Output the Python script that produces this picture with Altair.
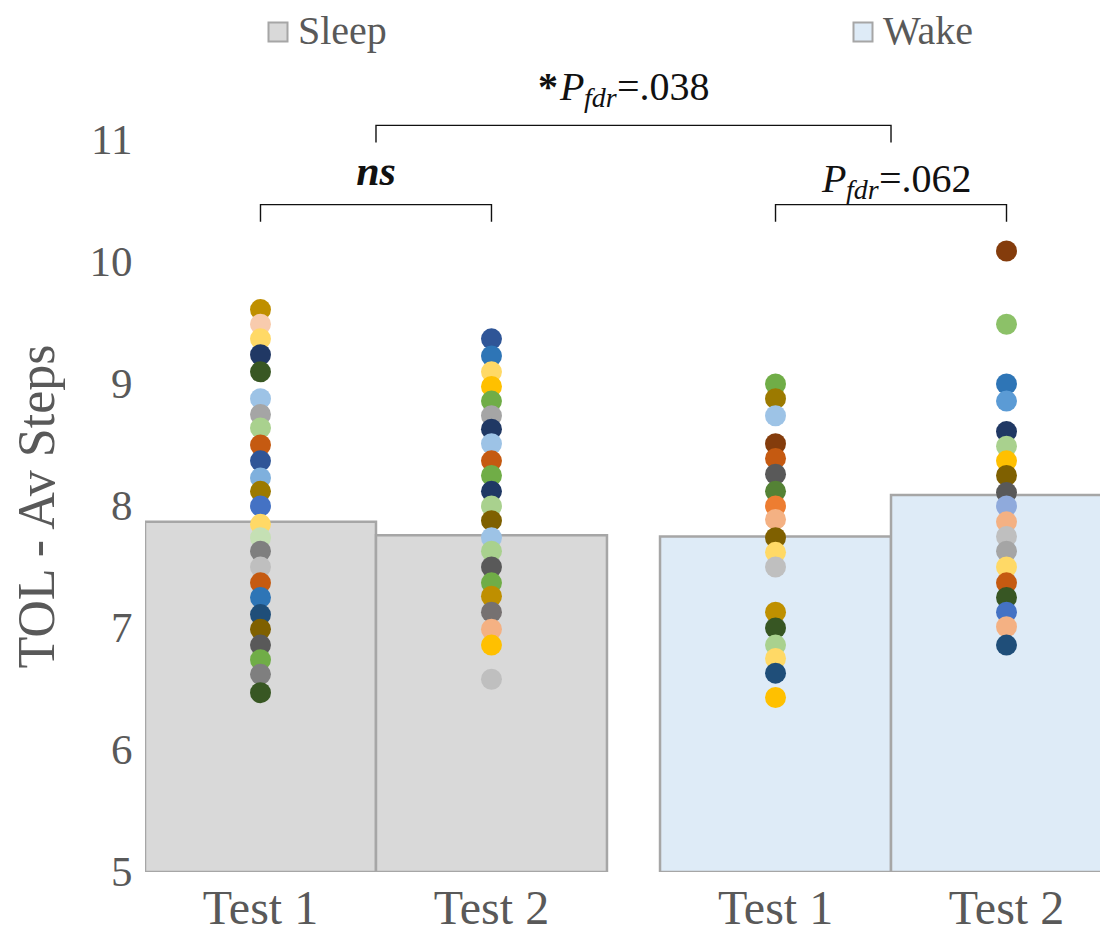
import altair as alt
import pandas as pd

# ---------------- data ----------------
groups = ["Sleep", "Sleep", "Wake", "Wake"]
tests = ["Test 1", "Test 2", "Test 1", "Test 2"]
means = [7.87, 7.76, 7.75, 8.09]

sleep_t1_vals = [9.61, 9.49, 9.37, 9.24, 9.10, 8.88, 8.75, 8.64, 8.50, 8.37, 8.23, 8.12, 8.00,
                 7.85, 7.74, 7.63, 7.50, 7.37, 7.25, 7.11, 6.99, 6.86, 6.74, 6.62, 6.47]
sleep_t1_cols = ["#BF8F00", "#F8CBAD", "#FFD966", "#203864", "#385723", "#9DC3E6", "#A5A5A5",
                 "#A9D18E", "#C55A11", "#2F5597", "#7FB0DD", "#9C7A00", "#4472C4", "#FFD966",
                 "#C5E0B4", "#7F7F7F", "#BFBFBF", "#C55A11", "#2E75B6", "#1F4E79", "#7F6000",
                 "#595959", "#70AD47", "#7F7F7F", "#385723"]

sleep_t2_vals = [9.37, 9.23, 9.10, 8.98, 8.86, 8.74, 8.63, 8.51, 8.37, 8.25, 8.12, 8.00, 7.88,
                 7.74, 7.63, 7.50, 7.37, 7.26, 7.13, 6.99, 6.86, 6.58]
sleep_t2_cols = ["#2F5597", "#2E75B6", "#FFD966", "#FFC000", "#70AD47", "#A5A5A5", "#203864",
                 "#9DC3E6", "#C55A11", "#70AD47", "#1F3864", "#A9D18E", "#7F6000", "#9DC3E6",
                 "#A9D18E", "#595959", "#70AD47", "#BF8F00", "#767171", "#F4B183", "#FFC000",
                 "#BFBFBF"]

wake_t1_vals = [9.00, 8.88, 8.74, 8.51, 8.39, 8.26, 8.12, 8.00, 7.89, 7.74, 7.62, 7.50, 7.13,
                7.00, 6.86, 6.75, 6.63, 6.43]
wake_t1_cols = ["#70AD47", "#9C7A00", "#9DC3E6", "#843C0C", "#C55A11", "#595959", "#548235",
                "#ED7D31", "#F4B183", "#7F6000", "#FFD966", "#BFBFBF", "#BF9000", "#375623",
                "#A9D18E", "#FFD966", "#1F4E79", "#FFC000"]

wake_t2_vals = [10.09, 9.49, 9.00, 8.86, 8.61, 8.49, 8.37, 8.25, 8.11, 8.00, 7.87, 7.75, 7.63,
                7.50, 7.37, 7.25, 7.13, 7.01, 6.86]
wake_t2_cols = ["#843C0C", "#8CC168", "#2E75B6", "#5B9BD5", "#203864", "#A9D18E", "#FFC000",
                "#7F6000", "#595959", "#8FAADC", "#F4B183", "#BFBFBF", "#A5A5A5", "#FFD966",
                "#C55A11", "#375623", "#4472C4", "#F4B183", "#1F4E79"]

group_names = ["Sleep", "Wake"]
group_fills = ["#D9D9D9", "#DEEBF7"]
y_ticks = [5, 6, 7, 8, 9, 10, 11]

# bracket levels (data units): leg bottom, bar top
outer_bracket = [10.98, 11.12]
inner_bracket = [10.33, 10.47]
outer_label_y = 11.33
inner_label_y = 10.57

FONT = "Liberation Serif"
TXT = "#595959"
INK = "#111111"

# ---------------- tables ----------------
bars_df = pd.DataFrame({"group": groups, "test": tests, "mean": means})

rows = []
for g, t, vals, cols in [("Sleep", "Test 1", sleep_t1_vals, sleep_t1_cols),
                         ("Sleep", "Test 2", sleep_t2_vals, sleep_t2_cols),
                         ("Wake", "Test 1", wake_t1_vals, wake_t1_cols),
                         ("Wake", "Test 2", wake_t2_vals, wake_t2_cols)]:
    for v, c in zip(vals, cols):
        rows.append({"group": g, "test": t, "value": v, "color": c})
pts_df = pd.DataFrame(rows)

top_df = pd.DataFrame({
    "group": ["Sleep", "Sleep", "Wake", "Wake"],
    "y": [outer_bracket[0], outer_bracket[1], outer_bracket[1], outer_bracket[0]],
    "order": [0, 1, 2, 3],
})
inner_rows = []
for g in group_names:
    for i, (t, lev) in enumerate([("Test 1", 0), ("Test 1", 1), ("Test 2", 1), ("Test 2", 0)]):
        inner_rows.append({"group": g, "test": t, "y": inner_bracket[lev], "order": i, "id": g})
inner_df = pd.DataFrame(inner_rows)

# ---------------- scales / encodings ----------------
x_scale = alt.Scale(domain=group_names, range=[0, 977], paddingInner=0.103, paddingOuter=0)
xo_scale = alt.Scale(domain=["Test 1", "Test 2"], paddingInner=0, paddingOuter=0)
y_scale = alt.Scale(domain=[5, 11], nice=False, zero=False)

X = alt.X("group:N", scale=x_scale, axis=None)
XO = alt.XOffset("test:N", scale=xo_scale)

bars = alt.Chart(bars_df).mark_bar(stroke="#A6A6A6", strokeWidth=2.5, clip=True).encode(
    x=X,
    xOffset=XO,
    y=alt.Y("mean:Q", scale=y_scale,
            axis=alt.Axis(values=y_ticks, format="d", domain=False, ticks=False, grid=False,
                          labelFont=FONT, labelFontSize=43, labelColor=TXT, labelPadding=13,
                          title="TOL - Av Steps", titleFont=FONT, titleFontSize=52,
                          titleFontWeight="normal", titleColor=TXT, titlePadding=25)),
    y2=alt.datum(5),
    fill=alt.Fill("group:N", scale=alt.Scale(domain=group_names, range=group_fills),
                  legend=alt.Legend(orient="none", legendX=113, legendY=-128,
                                    direction="horizontal", title=None, symbolType="square",
                                    symbolSize=361, symbolStrokeColor="#A6A6A6",
                                    symbolStrokeWidth=2, labelFont=FONT, labelFontSize=40,
                                    labelColor=TXT, columnPadding=456, labelOffset=0,
                                    padding=0)),
)

xlabels = alt.Chart(bars_df).mark_text(font=FONT, fontSize=48, color=TXT, baseline="alphabetic",
                                       dy=52).encode(
    x=X, xOffset=XO, y=alt.datum(5), text="test:N")

points = alt.Chart(pts_df).mark_circle(size=440, opacity=1).encode(
    x=X, xOffset=XO,
    y=alt.Y("value:Q", scale=y_scale),
    color=alt.Color("color:N", scale=None),
)

top_line = alt.Chart(top_df).mark_line(color=INK, strokeWidth=1.4).encode(
    x=X, y=alt.Y("y:Q", scale=y_scale), order="order:Q")

inner_lines = alt.Chart(inner_df).mark_line(color=INK, strokeWidth=1.4).encode(
    x=X, xOffset=XO, y=alt.Y("y:Q", scale=y_scale), detail="id:N", order="order:Q")


def piece(group, yv, text, dx, dy=0, size=40, style="normal", weight="normal"):
    df = pd.DataFrame({"group": [group], "y": [yv], "t": [text]})
    return alt.Chart(df).mark_text(font=FONT, fontSize=size, fontStyle=style, fontWeight=weight,
                                   color=INK, align="left", baseline="alphabetic",
                                   dx=dx, dy=dy).encode(
        x=X, y=alt.Y("y:Q", scale=y_scale), text="t:N")


anno = [
    piece("Sleep", outer_label_y, "*", 162, weight="bold"),
    piece("Sleep", outer_label_y, "P", 184, style="italic"),
    piece("Sleep", outer_label_y, "fdr", 208, dy=7, size=28, style="italic"),
    piece("Sleep", outer_label_y, "=.038", 241),
    piece("Wake", inner_label_y, "P", -69, style="italic"),
    piece("Wake", inner_label_y, "fdr", -45, dy=7, size=28, style="italic"),
    piece("Wake", inner_label_y, "=.062", -12),
]
ns_df = pd.DataFrame({"group": ["Sleep"], "y": [inner_label_y + 0.06], "t": ["ns"]})
ns = alt.Chart(ns_df).mark_text(font=FONT, fontSize=42, fontStyle="italic", fontWeight="bold",
                                color=INK, align="center", baseline="alphabetic").encode(
    x=X, y=alt.Y("y:Q", scale=y_scale), text="t:N")

chart = alt.layer(bars, points, xlabels, top_line, inner_lines, ns, *anno).properties(
    width=955, height=732,
    padding={"left": 137, "top": 132, "right": 0, "bottom": 70},
    autosize=alt.AutoSizeParams(type="none"),
    background="white",
).configure_view(stroke=None)

chart.save("out.html", embed_options={"renderer": "svg", "actions": False})
